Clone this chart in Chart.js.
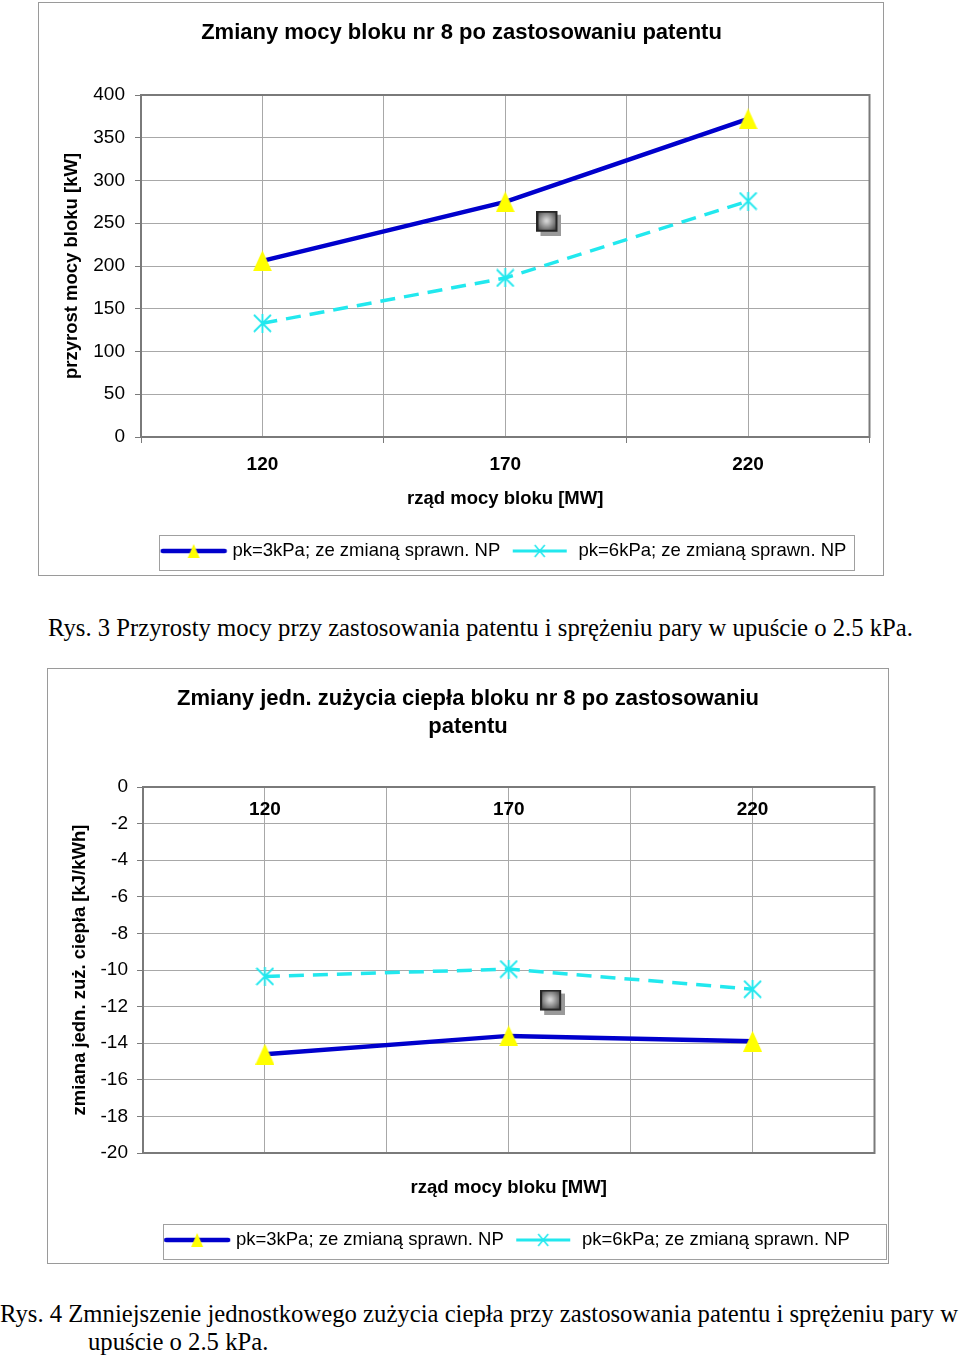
<!DOCTYPE html>
<html><head><meta charset="utf-8">
<script src="https://cdn.jsdelivr.net/npm/chart.js@4"></script>
<style>
html,body{margin:0;padding:0;background:#fff;width:960px;height:1359px;overflow:hidden;}
.box{position:absolute;border:1px solid #9a9a9a;background:#fff;}
.box canvas{position:absolute;left:0;top:0;}
.cap{position:absolute;font-family:"Liberation Serif","Times New Roman",serif;font-size:24.7px;color:#000;white-space:nowrap;line-height:28px;}
</style></head><body>
<div class="box" style="left:38px;top:2px;width:844px;height:572px"><canvas id="c1" width="844" height="572" style="width:844px;height:572px"></canvas></div>
<div class="cap" style="left:48px;top:614px">Rys. 3 Przyrosty mocy przy zastosowania patentu i sprężeniu pary w upuście o 2.5 kPa.</div>
<div class="box" style="left:47px;top:668px;width:840px;height:594px"><canvas id="c2" width="840" height="594" style="width:840px;height:594px"></canvas></div>
<div class="cap" style="left:0;top:1300px">Rys. 4 Zmniejszenie jednostkowego zużycia ciepła przy zastosowania patentu i sprężeniu pary w</div>
<div class="cap" style="left:88px;top:1328px">upuście o 2.5 kPa.</div>
<script>
// ---- data ----
const blockPower = [120, 170, 220];
const powerGain3kPa = [206, 275, 372];
const powerGain6kPa = [133, 186, 276];
const heatChange3kPa = [-14.6, -13.6, -13.9];
const heatChange6kPa = [-10.35, -9.95, -11.05];
const strayMarkerX = [179];
const powerStrayY = [250];
const heatStrayY = [-11.75];
const xGridValues = [95, 120, 145, 170, 195, 220, 245];
const xLabelValues = [120, 170, 220];
const seriesNames = ['pk=3kPa; ze zmianą sprawn. NP', 'pk=6kPa; ze zmianą sprawn. NP'];
const powerTitle = 'Zmiany mocy bloku nr 8 po zastosowaniu patentu';
const heatTitle = ['Zmiany jedn. zużycia ciepła bloku nr 8 po zastosowaniu', 'patentu'];
const powerYTitle = 'przyrost mocy bloku [kW]';
const heatYTitle = 'zmiana jedn. zuż. ciepła [kJ/kWh]';
const xTitle = 'rząd mocy bloku [MW]';

// ---- styles ----
const SANS = '"Liberation Sans", Arial, sans-serif';
const BLUE = '#0000CC';
const CYAN = '#22E8EE';
const YELLOW = '#FFFF00';
const GRID = '#a8a8a8';
const AXIS = '#7a7a7a';

function mk(w, h) { const c = document.createElement('canvas'); c.width = w; c.height = h; return c; }
function triangleImg(w, h) {
  const c = mk(w, h), g = c.getContext('2d');
  g.fillStyle = YELLOW; g.beginPath(); g.moveTo(w / 2, 0); g.lineTo(w, h); g.lineTo(0, h); g.closePath(); g.fill();
  return c;
}
function starImg(s, lw) {
  const c = mk(s, s), g = c.getContext('2d');
  g.strokeStyle = CYAN; g.lineWidth = lw; g.beginPath();
  const m = 1;
  g.moveTo(m, m); g.lineTo(s - m, s - m); g.moveTo(s - m, m); g.lineTo(m, s - m);
  g.moveTo(s / 2, 0); g.lineTo(s / 2, s); g.stroke();
  return c;
}
function squareImg() {
  const c = mk(25, 25), g = c.getContext('2d');
  g.fillStyle = '#9a9a9a'; g.fillRect(4, 4, 21, 21);
  const gr = g.createRadialGradient(10, 10, 1, 10, 10, 12);
  gr.addColorStop(0, '#d4d4d4'); gr.addColorStop(1, '#4a4a4a');
  g.fillStyle = gr; g.fillRect(0, 0, 21, 21);
  g.strokeStyle = '#262626'; g.lineWidth = 2; g.strokeRect(1, 1, 19, 19);
  return c;
}
function legendSym1() {
  const c = mk(68, 20), g = c.getContext('2d');
  g.strokeStyle = BLUE; g.lineWidth = 4.5; g.lineCap = 'round';
  g.beginPath(); g.moveTo(3, 10); g.lineTo(65, 10); g.stroke();
  g.fillStyle = YELLOW; g.beginPath(); g.moveTo(34, 3); g.lineTo(40, 17); g.lineTo(28, 17); g.closePath(); g.fill();
  return c;
}
function legendSym2() {
  const c = mk(56, 20), g = c.getContext('2d');
  g.strokeStyle = CYAN; g.lineWidth = 3;
  g.beginPath(); g.moveTo(1, 10); g.lineTo(55, 10); g.stroke();
  g.lineWidth = 1.6; g.beginPath();
  g.moveTo(23, 4); g.lineTo(33, 16); g.moveTo(33, 4); g.lineTo(23, 16); g.stroke();
  return c;
}
const tri = triangleImg(19, 21);
const star = starImg(19, 1.8);
const sq = squareImg();
const sym1 = legendSym1();
const sym2 = legendSym2();

const plotFrame = {
  id: 'plotFrame',
  beforeDatasetsDraw(chart) {
    const a = chart.chartArea, g = chart.ctx;
    g.save(); g.strokeStyle = AXIS; g.lineWidth = 2;
    g.strokeRect(a.left, a.top, a.right - a.left, a.bottom - a.top); g.restore();
  }
};
const legendFrame = {
  id: 'legendFrame',
  afterDraw(chart, args, opts) {
    const lg = chart.legend; if (!lg || !lg.legendHitBoxes.length) return;
    const hb = lg.legendHitBoxes;
    const l = Math.min(...hb.map(h => h.left)) - (opts.padL || 5);
    const r = Math.max(...hb.map(h => h.left + h.width)) + (opts.padR || 8);
    const t = lg.top + 3, b = lg.bottom - 1;
    const g = chart.ctx; g.save(); g.strokeStyle = '#a0a0a0'; g.lineWidth = 1;
    g.strokeRect(Math.round(l) + 0.5, Math.round(t) + 0.5, Math.round(r - l), Math.round(b - t)); g.restore();
  }
};

function pts(xs, ys) { return xs.map((x, i) => ({ x, y: ys[i] })); }
function datasets(s1, s2, stray) {
  return [
    { label: seriesNames[0], data: s1, borderColor: BLUE, backgroundColor: YELLOW, borderWidth: 4.5,
      pointStyle: tri, pointRadius: 9, tension: 0 },
    { label: seriesNames[1], data: s2, borderColor: CYAN, backgroundColor: CYAN, borderWidth: 3.5,
      borderDash: [15, 9], pointStyle: star, pointRadius: 9, tension: 0 },
    { label: 'marker', data: stray, showLine: false, pointStyle: sq, pointRadius: 9 }
  ];
}
function legendOpts() {
  return {
    position: 'bottom', fullSize: false,
    labels: {
      usePointStyle: true, pointStyleWidth: 59, padding: 10, color: '#000',
      font: { family: SANS, size: 18.5 },
      generateLabels: () => [
        { text: seriesNames[0], pointStyle: sym1, fillStyle: BLUE, strokeStyle: BLUE, lineWidth: 0, hidden: false, datasetIndex: 0, fontColor: '#000' },
        { text: seriesNames[1], pointStyle: sym2, fillStyle: CYAN, strokeStyle: CYAN, lineWidth: 0, hidden: false, datasetIndex: 1, fontColor: '#000' }
      ]
    }
  };
}
const tickFont = { family: SANS, size: 19 };
const tickBold = { family: SANS, size: 19, weight: 'bold', lineHeight: 1.2 };
const boldFont = { family: SANS, size: 18.5, weight: 'bold', lineHeight: 1.2 };

new Chart(document.getElementById('c1'), {
  type: 'line',
  data: { datasets: datasets(pts(blockPower, powerGain3kPa), pts(blockPower, powerGain6kPa), pts(strayMarkerX, powerStrayY)) },
  options: {
    responsive: false, animation: false, events: [],
    layout: { padding: { left: 14, right: 13, top: 0, bottom: 4.75 } },
    plugins: {
      title: { display: true, text: powerTitle, color: '#000',
        font: { family: SANS, size: 22, weight: 'bold', lineHeight: 1.2 }, padding: { top: 16.4, bottom: 49.2 } },
      legend: legendOpts(),
      legendFrame: { padL: 5, padR: 8 },
      tooltip: { enabled: false }
    },
    scales: {
      x: {
        type: 'linear', min: 95, max: 245,
        afterBuildTicks: s => { s.ticks = xGridValues.map(v => ({ value: v })); },
        afterFit: s => { s.height = 94.75; },
        ticks: { callback: v => xLabelValues.includes(v) ? String(v) : '', color: '#000',
          font: tickBold, padding: 10.6, maxRotation: 0, autoSkip: false },
        grid: { color: GRID, tickLength: 6,
          tickColor: c => (c.tick && xLabelValues.includes(c.tick.value)) ? 'rgba(0,0,0,0)' : AXIS },
        border: { color: AXIS, width: 2 },
        title: { display: true, text: xTitle, color: '#000', font: boldFont, padding: { top: 0, bottom: 21.65 } }
      },
      y: {
        min: 0, max: 400,
        afterFit: s => { s.width = 88; },
        ticks: { stepSize: 50, color: '#000', font: tickFont, padding: 10 },
        grid: { color: GRID, tickLength: 6, tickColor: AXIS },
        border: { color: AXIS, width: 2 },
        title: { display: true, text: powerYTitle, color: '#000', font: boldFont, padding: { top: 7.9, bottom: 0 } }
      }
    }
  },
  plugins: [plotFrame, legendFrame]
});

new Chart(document.getElementById('c2'), {
  type: 'line',
  data: { datasets: datasets(pts(blockPower, heatChange3kPa), pts(blockPower, heatChange6kPa), pts(strayMarkerX, heatStrayY)) },
  options: {
    responsive: false, animation: false, events: [],
    layout: { padding: { left: 12, right: 12, top: 0, bottom: 3.75 } },
    plugins: {
      title: { display: true, text: heatTitle, color: '#000',
        font: { family: SANS, size: 22, weight: 'bold', lineHeight: 28 / 22 }, padding: { top: 16, bottom: 46 } },
      legend: legendOpts(),
      legendFrame: { padL: 5, padR: 36 },
      tooltip: { enabled: false }
    },
    scales: {
      x: {
        type: 'linear', min: 95, max: 245, position: 'bottom',
        afterBuildTicks: s => { s.ticks = xGridValues.map(v => ({ value: v })); },
        afterFit: s => { s.height = 67.75; },
        ticks: { display: false },
        grid: { color: GRID, drawTicks: false },
        border: { color: AXIS, width: 2 },
        title: { display: true, text: xTitle, color: '#000', font: boldFont, padding: { top: 0, bottom: 21.65 } }
      },
      x2: {
        type: 'linear', axis: 'x', min: 95, max: 245, position: { y: 0 },
        afterBuildTicks: s => { s.ticks = xLabelValues.map(v => ({ value: v })); },
        ticks: { color: '#000', font: tickBold, padding: 11.6, maxRotation: 0, autoSkip: false },
        grid: { display: false, drawTicks: false },
        border: { display: false }
      },
      y: {
        min: -20, max: 0,
        afterFit: s => { s.width = 83; },
        ticks: { stepSize: 2, color: '#000', font: tickFont, padding: 9 },
        grid: { color: GRID, tickLength: 6, tickColor: AXIS },
        border: { color: AXIS, width: 2 },
        title: { display: true, text: heatYTitle, color: '#000', font: boldFont, padding: { top: 8.9, bottom: 0 } }
      }
    }
  },
  plugins: [plotFrame, legendFrame]
});
</script>
</body></html>
